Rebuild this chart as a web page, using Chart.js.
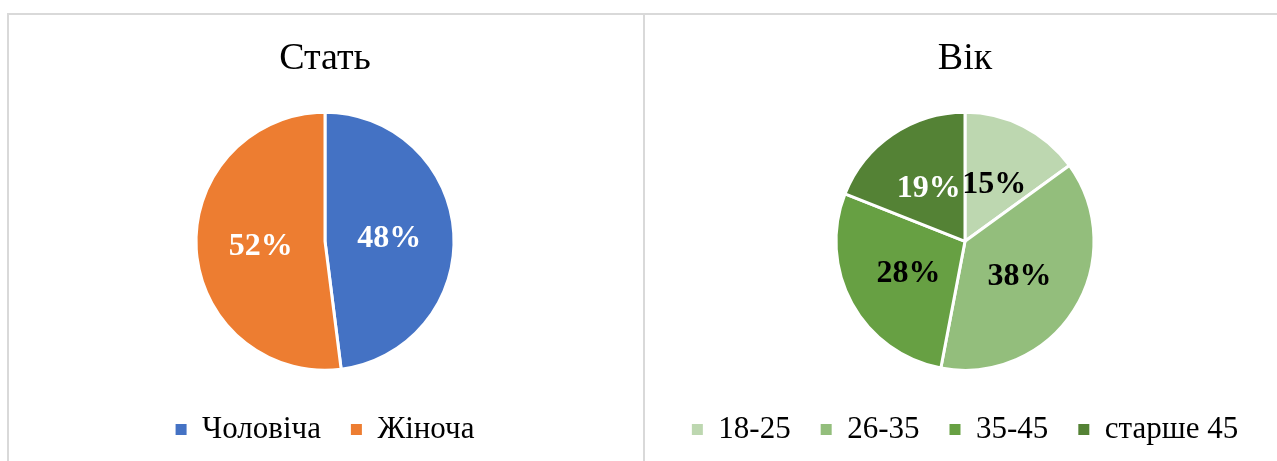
<!DOCTYPE html>
<html>
<head>
<meta charset="utf-8">
<script src="https://cdn.jsdelivr.net/npm/chart.js@4.4.1/dist/chart.umd.min.js"></script>
<style>
    html, body { margin: 0; padding: 0; background: #fff; overflow: hidden; width: 1277px; height: 461px; }
    .panel { position: absolute; top: 13px; height: 470px; border-top: 2px solid #d9d9d9; box-sizing: border-box; }
    #panel-left { left: 7px; width: 638px; border-left: 2px solid #d9d9d9; border-right: 2px solid #d9d9d9; }
    #panel-right { left: 645px; width: 660px; }
    .chart-box { position: absolute; top: 15px; height: 446px; }
    #box-gender { left: 8px; width: 634px; }
    #box-age { left: 645px; width: 640px; }
</style>
</head>
<body>
<div class="panel" id="panel-left"></div>
<div class="panel" id="panel-right"></div>
<div class="chart-box" id="box-gender"><canvas id="gender-chart"></canvas></div>
<div class="chart-box" id="box-age"><canvas id="age-chart"></canvas></div>
<script>
// data
const genderLabels = ['Чоловіча', 'Жіноча'];
const genderValues = [48, 52];
const genderColors = ['#4472C4', '#ED7D31'];
const genderTextColors = ['#fff', '#fff'];

const ageLabels = ['18-25', '26-35', '35-45', 'старше 45'];
const ageValues = [15, 38, 28, 19];
const ageColors = ['#BDD7B0', '#93BE7C', '#67A043', '#548235'];
const ageTextColors = ['#000', '#000', '#000', '#fff'];

const FONT = "'Liberation Serif', 'Times New Roman', serif";

// percentage labels inside the slices (half radius, like Excel "center")
const sliceLabels = {
    id: 'sliceLabels',
    afterDatasetsDraw(chart) {
        const ctx = chart.ctx;
        const ds = chart.data.datasets[0];
        const total = ds.data.reduce((a, b) => a + b, 0);
        chart.getDatasetMeta(0).data.forEach((arc, i) => {
            const pos = arc.tooltipPosition();
            ctx.save();
            ctx.font = `bold 32px ${FONT}`;
            ctx.fillStyle = ds.textColors[i];
            ctx.textAlign = 'center';
            ctx.textBaseline = 'middle';
            ctx.fillText(Math.round(ds.data[i] / total * 100) + '%', pos.x, pos.y + 1);
            ctx.restore();
        });
    }
};

function createPie(canvasId, title, labels, data, colors, textColors) {
    const ctx = document.getElementById(canvasId).getContext('2d');
    return new Chart(ctx, {
        type: 'pie',
        data: {
            labels: labels,
            datasets: [{
                data: data,
                backgroundColor: colors,
                textColors: textColors,
                borderColor: '#fff',
                borderWidth: 3,
                radius: 129
            }]
        },
        options: {
            responsive: true,
            maintainAspectRatio: false,
            animation: false,
            events: [],
            layout: { padding: { bottom: 6 } },
            plugins: {
                title: {
                    display: true,
                    text: title,
                    color: '#000',
                    font: { family: FONT, size: 38, weight: 'normal' },
                    padding: { top: 21, bottom: 17 }
                },
                legend: {
                    position: 'bottom',
                    labels: {
                        color: '#000',
                        font: { family: FONT, size: 31 },
                        boxWidth: 11,
                        boxHeight: 11,
                        padding: 30,
                        generateLabels: chart => Chart.overrides.pie.plugins.legend.labels.generateLabels(chart)
                            .map(item => Object.assign(item, { lineWidth: 0 }))
                    }
                },
                tooltip: { enabled: false }
            }
        },
        plugins: [sliceLabels]
    });
}

createPie('gender-chart', 'Стать', genderLabels, genderValues, genderColors, genderTextColors);
createPie('age-chart', 'Вік', ageLabels, ageValues, ageColors, ageTextColors);
</script>
</body>
</html>
